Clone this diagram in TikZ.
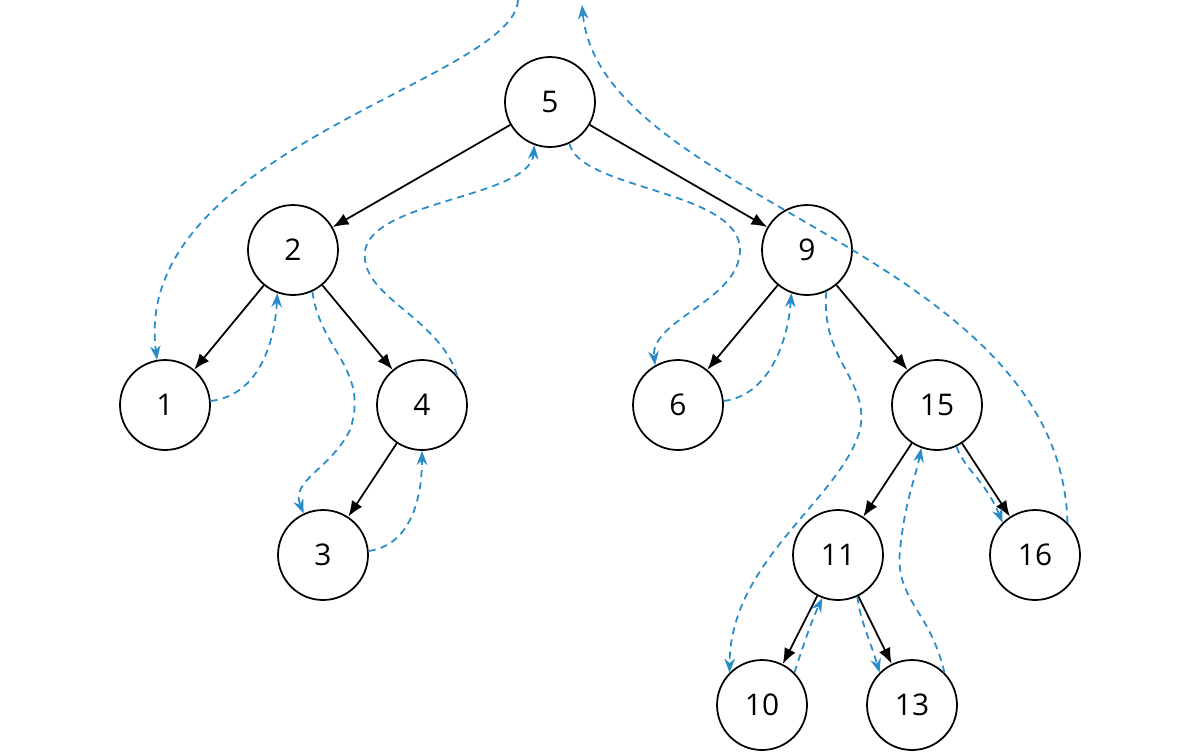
\documentclass[tikz,border=0pt]{standalone}
\usepackage{fontspec}
\setmainfont{Open Sans}
\usetikzlibrary{arrows.meta}
\definecolor{tb}{RGB}{40,140,200}
\begin{document}
\begin{tikzpicture}[x=0.02cm,y=-0.02cm,
  nd/.style={circle,draw,line width=1pt,minimum size=1.8cm,inner sep=0pt,font=\fontsize{17}{17}\selectfont},
  ed/.style={-{Latex[length=9pt,width=7pt]},line width=1pt},
  tr/.style={-{Stealth[length=8pt,width=6pt]},tb,dashed,line width=1pt,dash pattern=on 4pt off 3pt}]
\useasboundingbox (0,0) rectangle (1200,752);
\node[nd] (n5) at (550,102) {5};
\node[nd] (n2) at (293,250) {2};
\node[nd] (n9) at (807,250) {9};
\node[nd] (n1) at (165,405) {1};
\node[nd] (n4) at (422,405) {4};
\node[nd] (n6) at (678,405) {6};
\node[nd] (n15) at (937,405) {15};
\node[nd] (n3) at (323,555) {3};
\node[nd] (n11) at (838,555) {11};
\node[nd] (n16) at (1035,555) {16};
\node[nd] (n10) at (762,705) {10};
\node[nd] (n13) at (912,705) {13};
\foreach \a/\b in {n5/n2,n5/n9,n2/n1,n2/n4,n4/n3,n9/n6,n9/n15,n15/n11,n15/n16,n11/n10,n11/n13}
  \draw[ed] (\a) -- (\b);
\coordinate (top1) at (518,0);
\coordinate (top2) at (582,5);
\draw[tr] (top1) .. controls (515,80) and (130,150) .. (n1.100);
\draw[tr] (n1.5) .. controls (260,395) and (275,340) .. (n2.-110);
\draw[tr] (n2.-65) .. controls (320,350) and (370,370) .. (350,430) .. controls (330,470) and (290,480) .. (n3.115);
\draw[tr] (n3.5) .. controls (410,545) and (422,500) .. (n4.-90);
\draw[tr] (n4.40) .. controls (440,320) and (370,300) .. (365,260) .. controls (355,200) and (530,200) .. (n5.-110);
\draw[tr] (n5.-65) .. controls (580,190) and (740,190) .. (740,250) .. controls (740,300) and (650,320) .. (n6.120);
\draw[tr] (n6.5) .. controls (770,395) and (788,340) .. (n9.-110);
\draw[tr] (n9.-65) .. controls (820,360) and (870,380) .. (860,430) .. controls (840,500) and (730,560) .. (n10.135);
\draw[tr] (n10.45) .. controls (805,640) and (812,620) .. (n11.-110);
\draw[tr] (n11.-65) .. controls (860,620) and (870,640) .. (n13.135);
\draw[tr] (n13.45) .. controls (930,610) and (895,600) .. (900,550) .. controls (905,500) and (915,480) .. (n15.-110);
\draw[tr] (n15.-65) .. controls (965,470) and (985,480) .. (n16.135);
\draw[tr] (n16.45) .. controls (1060,250) and (600,200) .. (top2);
\end{tikzpicture}
\end{document}
